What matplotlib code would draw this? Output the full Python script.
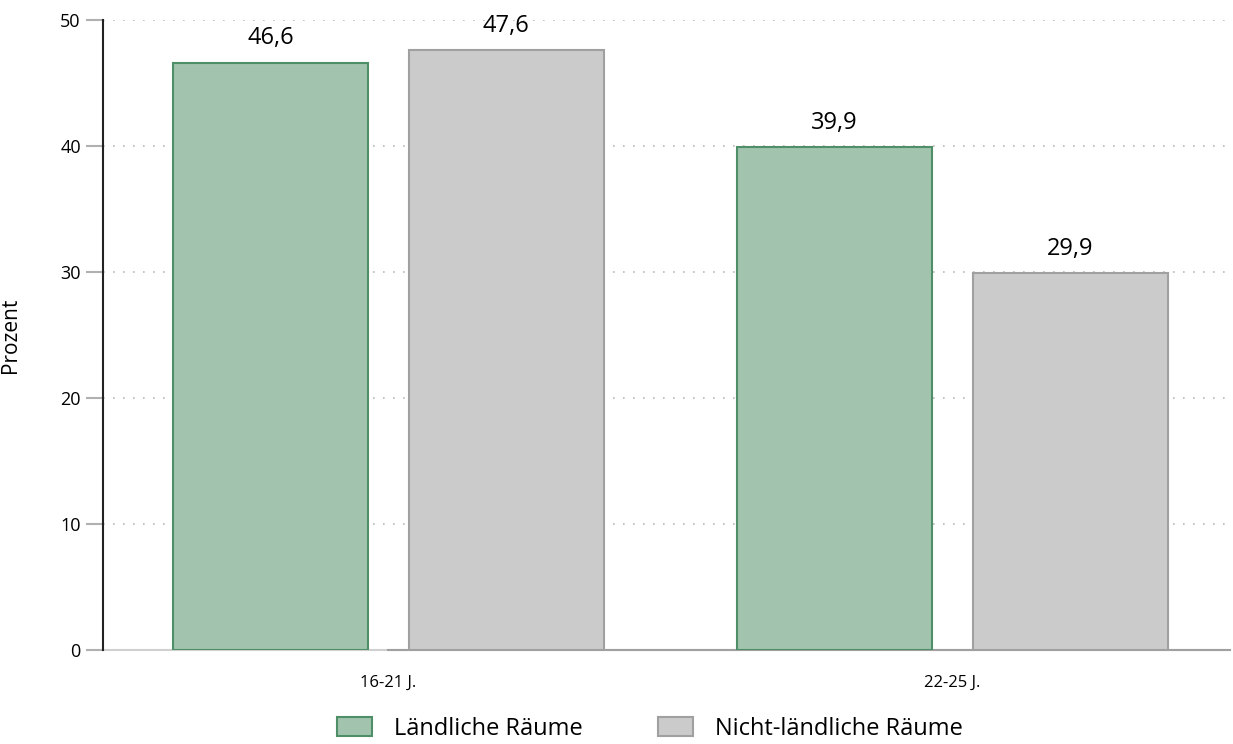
import matplotlib
matplotlib.use("Agg")
import matplotlib.pyplot as plt
from matplotlib.patches import Patch
import numpy as np

categories = ["16-21 J.", "22-25 J."]
series_names = ["Ländliche Räume", "Nicht-ländliche Räume"]
laendlich = [46.6, 39.9]
nicht_laendlich = [47.6, 29.9]
yticks = [0, 10, 20, 30, 40, 50]

plt.rcParams['font.family'] = ['Open Sans', 'DejaVu Sans']

fig = plt.figure(figsize=(12.33, 7.44), dpi=100)
ax = fig.add_axes([103/1233, 1-650/744, (1230-103)/1233, (650-20)/744])

x = np.arange(len(categories))
w = 0.346
off = 0.209
green_fc, green_ec = "#a2c4af", "#4f8f68"
gray_fc, gray_ec = "#cbcbcb", "#a0a0a0"

b1 = ax.bar(x - off, laendlich, w, color=green_fc, edgecolor=green_ec, linewidth=1.5, zorder=3)
b2 = ax.bar(x + off, nicht_laendlich, w, color=gray_fc, edgecolor=gray_ec, linewidth=1.5, zorder=3)

for bars, vals in ((b1, laendlich), (b2, nicht_laendlich)):
    for r, v in zip(bars, vals):
        ax.text(r.get_x() + r.get_width()/2, v + 1.0, f"{v:.1f}".replace('.', ','),
                ha='center', va='bottom', fontsize=17, color='black')

ax.set_xlim(-0.506, 1.492)
ax.set_ylim(0, 50)
ax.set_yticks(yticks)
ax.set_yticklabels([str(t) for t in yticks], fontsize=13)
ax.set_xticks(x)
ax.set_xticklabels(categories, fontsize=12)
ax.tick_params(axis='x', length=0, pad=18)
ax.tick_params(axis='y', length=12, color='#b0b0b0', width=1.5, pad=4)

ax.grid(axis='y', linestyle=(0, (1, 5)), color='#b8b8b8', linewidth=1.2, zorder=0)
for s in ['top', 'right', 'bottom']:
    ax.spines[s].set_visible(False)
ax.spines['left'].set_color('#222222')
ax.spines['left'].set_linewidth(1.5)
ax.plot([-0.506, 1.492], [0, 0], color='#d0d0d0', linewidth=1.5, zorder=2, clip_on=False)
ax.plot([0, 1.492], [0, 0], color='#a0a0a0', linewidth=1.5, zorder=2, clip_on=False)

ax.set_ylabel("Prozent", fontsize=15)
ax.yaxis.set_label_coords(-0.073, 0.5)

handles = [Patch(facecolor=green_fc, edgecolor=green_ec, linewidth=1.5),
           Patch(facecolor=gray_fc, edgecolor=gray_ec, linewidth=1.5)]
fig.legend(handles, series_names, loc='lower center', ncol=2, frameon=False,
           fontsize=17, bbox_to_anchor=(0.527, -0.024), handlelength=1.5,
           handleheight=0.85, columnspacing=3.2, handletextpad=0.9)

fig.savefig("out.png", dpi=100)
